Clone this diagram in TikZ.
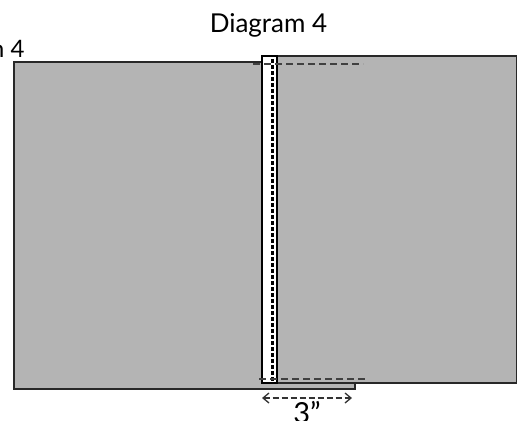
\documentclass[tikz,border=0pt]{standalone}
\usepackage{fontspec}
\setmainfont{Lato}
\usepackage{tikz}
\usetikzlibrary{arrows.meta}
\definecolor{panelgray}{RGB}{180,180,180}
\definecolor{edgegray}{RGB}{40,40,40}

\begin{document}
\begin{tikzpicture}[x=1pt,y=-1pt,
    panel/.style={draw=edgegray,line width=1.8pt,fill=panelgray},
    seamline/.style={black!75,line width=1.5pt,dash pattern=on 7pt off 4pt},
    stitch/.style={black,line width=2.2pt,dash pattern=on 3.5pt off 2.5pt}]
  \useasboundingbox (0,0) rectangle (524,420);
  \clip (0,0) rectangle (524,420);
  \node[anchor=base,font=\fontsize{26}{30}\selectfont] (title) at (268.5,33) {Diagram 4};
  \node[anchor=base east,font=\fontsize{24}{28}\selectfont] (prev) at (28,57) {Diagram 4};
  \draw[panel] (14,62) rectangle (355,389);
  \draw[panel] (277,56) rectangle (516.5,383);
  \draw[fill=white,line width=2.6pt] (262,56) rectangle (277,383);
  \draw[stitch] (272.5,59) -- (272.5,382);
  \draw[seamline] (253,64) -- (363,64);
  \draw[seamline] (259,379) -- (368,379);
  \coordinate (arrowl) at (262,398);
  \coordinate (arrowr) at (352,398);
  \draw[black!80,line width=1.3pt,dash pattern=on 6pt off 3pt,{Straight Barb[length=6pt,width=10pt]}-{Straight Barb[length=6pt,width=10pt]}] (arrowl) -- (arrowr);
  \node[anchor=base,font=\fontsize{29}{33}\selectfont] (width) at (307,423) {3”};
\end{tikzpicture}
\end{document}
